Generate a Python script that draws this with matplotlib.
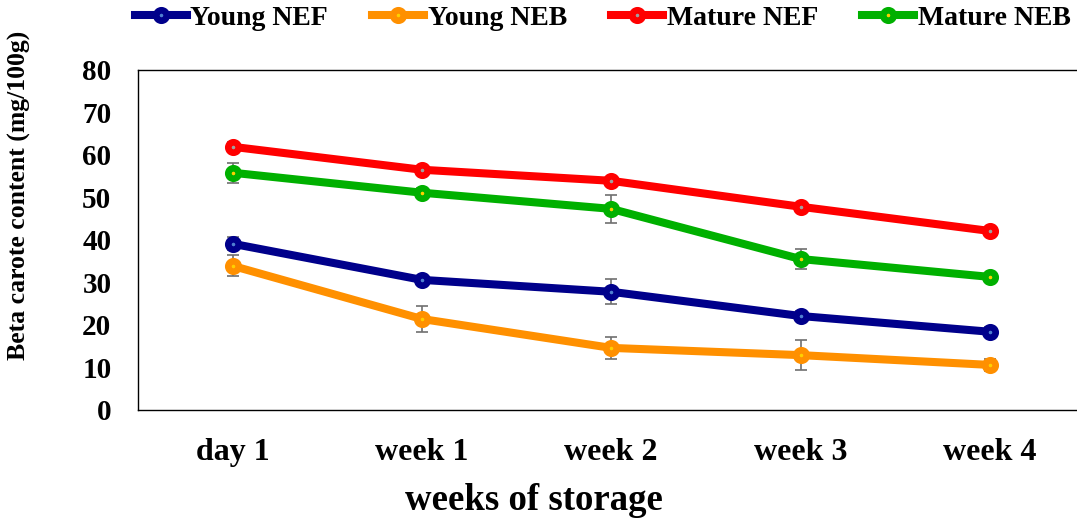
import matplotlib.pyplot as plt

# Beta carotene over storage time, four leaf groups
periods = ["day 1", "week 1", "week 2", "week 3", "week 4"]

young_nef = [39.1, 30.6, 27.8, 22.1, 18.4]
young_neb = [33.9, 21.4, 14.6, 12.9, 10.6]
mature_nef = [61.9, 56.5, 53.9, 47.8, 42.1]
mature_neb = [55.8, 51.1, 47.3, 35.5, 31.3]

young_nef_err = [1.5, 1.0, 2.9, 1.2, 1.0]
young_neb_err = [2.5, 3.0, 2.6, 3.6, 1.5]
mature_nef_err = [1.2, 0.8, 0.8, 0.8, 1.0]
mature_neb_err = [2.3, 1.2, 3.3, 2.4, 1.0]

series = [
    ("Young NEF", young_nef, young_nef_err, "#00008b", "#4f7fd0"),
    ("Young NEB", young_neb, young_neb_err, "#ff9000", "#ffd000"),
    ("Mature NEF", mature_nef, mature_nef_err, "#ff0000", "#a0a0a0"),
    ("Mature NEB", mature_neb, mature_neb_err, "#00b000", "#ffd000"),
]

plt.rcParams["font.family"] = ["Liberation Serif", "DejaVu Serif"]
plt.rcParams["font.weight"] = "bold"

fig = plt.figure(figsize=(10.77, 5.29), dpi=100)
ax = fig.add_axes([0.128, 0.225, 0.879, 0.643])

x = list(range(len(periods)))
for label, vals, errs, color, center in series:
    ax.errorbar(x, vals, yerr=errs, fmt="none", ecolor="#707070",
                elinewidth=1.2, capsize=4, capthick=1.2, zorder=2)
    ax.plot(x, vals, color=color, lw=5.8, marker="o", markersize=7.5,
            markeredgewidth=4.8, markeredgecolor=color,
            markerfacecolor=center, label=label, zorder=3)

ax.set_xlim(-0.5, len(periods) - 0.5)
ax.set_ylim(0, 80)
ax.set_yticks(range(0, 81, 10))
ax.set_xticks(x)
ax.set_xticklabels(periods, fontsize=23, fontweight="bold")
ax.tick_params(axis="y", labelsize=21, length=0, pad=19)
ax.tick_params(axis="x", length=0, pad=20)
for lbl in ax.get_yticklabels():
    lbl.set_fontweight("bold")

for side in ["left", "top", "bottom", "right"]:
    ax.spines[side].set_linewidth(1.0)
    ax.spines[side].set_color("black")

ax.set_xlabel("weeks of storage", fontsize=26.5, fontweight="bold")
ax.xaxis.set_label_coords(0.418, -0.215)
ax.set_ylabel("Beta carote content (mg/100g)", fontsize=18.5,
              fontweight="bold")
ax.yaxis.set_label_coords(-0.113, 0.63)

fig.legend(loc="upper left", bbox_to_anchor=(0.1253, 0.99), ncol=4,
           frameon=False, prop={"size": 20, "weight": "bold"},
           borderpad=0, borderaxespad=0,
           handlelength=1.87, handletextpad=0.12, columnspacing=1.6)

fig.savefig("out.png", dpi=100)
